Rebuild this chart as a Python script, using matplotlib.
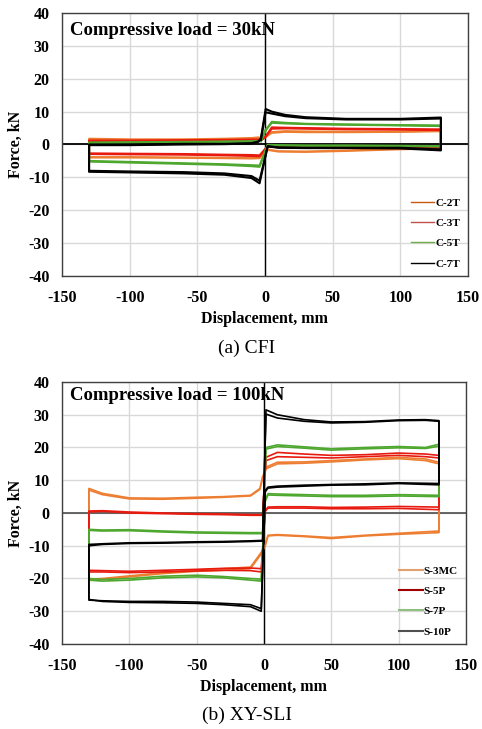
import matplotlib
matplotlib.use("Agg")
import matplotlib.pyplot as plt

plt.rcParams['font.family'] = ['Liberation Serif', 'DejaVu Serif']
plt.rcParams['axes.unicode_minus'] = False

# (a) CFI, compressive load 30 kN -- loop vertices
disp_a = [-3, 0.5, 5, 15, 30, 60, 100, 130, 130, 100, 60, 30, 10, 2,
          -4, -10, -30, -60, -100, -130, -130, -100, -60, -30, -10, -5, -3]

c2t_1 = [2.0, 2.5, 3.8, 4.1, 4.0, 3.9, 3.9, 4.2, -1.0, -1.3, -1.8, -2.1, -2.0, -1.5,
         -4.2, -4.3, -4.2, -4.1, -4.0, -4.0, 1.8, 1.6, 1.6, 1.8, 2.0, 2.2, 2.0]
c2t_2 = [1.7, 2.2, 3.5, 3.8, 3.7, 3.7, 3.8, 4.0, -1.2, -1.5, -2.0, -2.3, -2.2, -1.7,
         -4.0, -4.1, -4.0, -3.9, -3.8, -3.8, 1.5, 1.4, 1.4, 1.6, 1.8, 2.0, 1.7]
c3t_1 = [1.4, 2.5, 4.8, 4.9, 4.8, 4.6, 4.5, 4.4, -1.2, -1.1, -1.0, -0.9, -0.8, -0.6,
         -3.6, -3.5, -3.3, -3.1, -3.0, -2.9, 1.2, 1.2, 1.3, 1.4, 1.5, 1.5, 1.4]
c3t_2 = [1.2, 2.3, 5.2, 5.1, 5.0, 4.8, 4.7, 4.6, -1.0, -0.9, -0.8, -0.8, -0.7, -0.5,
         -3.3, -3.2, -3.1, -2.9, -2.8, -2.7, 1.0, 1.0, 1.1, 1.2, 1.3, 1.3, 1.2]
c5t_1 = [1.2, 4.5, 6.6, 6.4, 6.2, 6.0, 5.8, 5.6, -0.6, -0.5, -0.4, -0.4, -0.3, -0.2,
         -6.8, -6.6, -6.2, -5.9, -5.5, -5.2, 0.6, 0.7, 0.8, 0.9, 1.0, 1.1, 1.2]
c5t_2 = [1.0, 4.2, 6.9, 6.6, 6.3, 6.1, 5.9, 5.8, -0.5, -0.4, -0.3, -0.3, -0.2, -0.1,
         -6.4, -6.3, -6.0, -5.7, -5.3, -5.0, 0.5, 0.6, 0.7, 0.8, 0.9, 1.0, 1.0]
c7t_1 = [1.9, 10.8, 10.0, 9.0, 8.3, 7.8, 7.8, 8.2, -1.5, -1.0, -1.0, -1.0, -0.9, -0.5,
         -11.8, -10.2, -9.2, -8.8, -8.5, -8.3, -0.2, -0.2, 0.0, 0.1, 0.3, 0.8, 1.9]
c7t_2 = [1.5, 9.8, 9.4, 8.6, 8.0, 7.6, 7.6, 7.9, -1.8, -1.2, -1.1, -1.1, -1.0, -0.6,
         -11.0, -9.6, -8.8, -8.4, -8.2, -8.0, 0.0, 0.0, 0.2, 0.2, 0.4, 0.9, 1.5]

# (b) XY-SLI, compressive load 100 kN
disp_b = [-1, 1.5, 10, 30, 50, 75, 100, 120, 130, 130, 100, 75, 50, 30, 10, 3, 1,
          -2, -10, -30, -50, -75, -100, -120, -130, -130, -120, -100, -75, -50, -30, -10, -3, -1]

s3mc_1 = [11.0, 14.0, 15.5, 15.6, 16.0, 16.5, 17.0, 16.5, 15.5, -6.0, -6.5, -7.0, -7.8, -7.2, -6.8, -7.0, -10.0,
          -12.5, -17.0, -17.5, -17.8, -18.5, -19.5, -20.3, -20.5, 7.5, 6.0, 4.6, 4.5, 4.8, 5.0, 5.4, 7.5, 11.0]
s3mc_2 = [10.5, 13.5, 15.0, 15.2, 15.6, 16.2, 16.6, 16.0, 15.0, -5.5, -6.2, -6.8, -7.5, -7.0, -6.6, -6.8, -9.5,
          -12.0, -16.5, -17.0, -17.4, -18.2, -19.2, -20.0, -20.2, 7.0, 5.6, 4.3, 4.2, 4.5, 4.8, 5.2, 7.2, 10.5]
s5p_1 = [-0.7, 17.0, 18.5, 18.0, 17.6, 17.8, 18.3, 18.0, 17.6, 1.0, 1.4, 1.3, 1.3, 1.5, 1.5, 1.5, 0.5,
         -18.0, -17.6, -17.5, -17.7, -18.0, -18.2, -18.0, -18.0, 0.3, 0.5, 0.0, -0.2, -0.4, -0.5, -0.7, -0.7, -0.7]
s5p_2 = [-0.5, 16.0, 17.2, 17.0, 16.8, 17.2, 17.6, 17.2, 16.8, 1.8, 2.0, 1.8, 1.7, 1.9, 1.9, 1.8, 0.8,
         -17.0, -16.8, -16.9, -17.2, -17.5, -17.8, -17.6, -17.5, 0.6, 0.7, 0.3, 0.0, -0.2, -0.3, -0.5, -0.5, -0.5]
s7p_1 = [-6.3, 20.0, 20.8, 20.2, 19.6, 20.0, 20.3, 20.0, 21.0, 5.4, 5.6, 5.4, 5.4, 5.6, 5.8, 5.9, 4.0,
         -20.8, -20.5, -19.8, -19.5, -19.8, -20.5, -20.8, -20.5, -5.3, -5.5, -5.4, -5.8, -6.1, -6.2, -6.3, -6.3, -6.3]
s7p_2 = [-6.0, 19.5, 20.3, 19.8, 19.2, 19.6, 19.9, 19.7, 20.4, 5.0, 5.2, 5.0, 5.0, 5.2, 5.4, 5.5, 3.6,
         -20.2, -20.0, -19.4, -19.0, -19.3, -20.0, -20.3, -20.0, -5.0, -5.2, -5.1, -5.5, -5.8, -5.9, -6.0, -6.0, -6.0]
s10p_1 = [-8.6, 31.5, 30.0, 28.5, 27.8, 27.9, 28.4, 28.5, 28.2, 9.0, 9.2, 8.9, 8.7, 8.5, 8.2, 7.9, 7.0,
          -30.0, -28.6, -28.0, -27.6, -27.4, -27.3, -27.0, -26.4, -10.0, -9.6, -9.3, -9.2, -9.0, -8.9, -8.7, -8.6, -8.6]
s10p_2 = [-8.4, 30.2, 29.0, 28.0, 27.5, 27.7, 28.2, 28.3, 28.0, 8.6, 9.0, 8.6, 8.5, 8.2, 7.9, 7.6, 6.5,
          -29.2, -28.0, -27.6, -27.2, -27.0, -27.0, -26.8, -26.6, -9.6, -9.4, -9.1, -9.0, -8.8, -8.7, -8.5, -8.4, -8.4]

x_ticks = [-150, -100, -50, 0, 50, 100, 150]
y_ticks = [-40, -30, -20, -10, 0, 10, 20, 30, 40]


def style_axes(ax, zero_color):
    ax.set_xlim(-150, 150)
    ax.set_ylim(-40, 40)
    ax.set_xticks(x_ticks)
    ax.set_yticks(y_ticks)
    ax.grid(True, color='#d9d9d9', linewidth=1.0)
    ax.set_axisbelow(True)
    ax.axvline(0, color='black', linewidth=1.0, zorder=1.5)
    ax.axhline(0, color=zero_color, linewidth=1.3, zorder=1.5)
    ax.tick_params(axis='x', length=0, labelsize=11.5, pad=10)
    ax.tick_params(axis='y', length=0, labelsize=11.5, pad=9)
    for lab in ax.get_xticklabels() + ax.get_yticklabels():
        lab.set_fontweight('bold')
    for s in ax.spines.values():
        s.set_linewidth(1.0)
        s.set_color('#404040')
    ax.set_xlabel("Displacement, mm", fontsize=11.5, fontweight='bold', labelpad=4)
    ax.set_ylabel("Force, kN", fontsize=11.5, fontweight='bold', labelpad=3)


def draw_loops(ax, disp, loops, color, lw, label):
    for i, f in enumerate(loops):
        ax.plot(disp, f, color=color, linewidth=lw, label=label if i == 0 else None)


fig = plt.figure(figsize=(4.82, 7.29), dpi=100)

ax1 = fig.add_axes([0.1286, 0.6214, 0.8423, 0.3608])
style_axes(ax1, 'black')
draw_loops(ax1, disp_a, [c2t_1, c2t_2], '#ed7d31', 1.3, 'C-2T')
draw_loops(ax1, disp_a, [c3t_1, c3t_2], '#e8190f', 1.5, 'C-3T')
draw_loops(ax1, disp_a, [c5t_1, c5t_2], '#4ea72e', 1.5, 'C-5T')
draw_loops(ax1, disp_a, [c7t_1, c7t_2], 'black', 1.5, 'C-7T')
ax1.text(0.02, 0.935, "Compressive load = 30kN", transform=ax1.transAxes,
         fontsize=13.5, fontweight='bold', va='center', ha='left')
leg1 = ax1.legend(loc='lower right', bbox_to_anchor=(1.005, -0.01), frameon=False,
                  prop={'weight': 'bold', 'size': 8}, handlelength=2.1,
                  handletextpad=0.1, labelspacing=0.95)
for h, c in zip(leg1.get_lines(), ['#c55a11', '#c0504d', '#70ad47', 'black']):
    h.set_color(c)
    h.set_linewidth(1.0)
fig.text(0.512, 0.5226, "(a) CFI", fontsize=14, ha='center', va='center')

ax2 = fig.add_axes([0.1286, 0.1166, 0.838, 0.3594])
style_axes(ax2, '#595959')
draw_loops(ax2, disp_b, [s3mc_1, s3mc_2], '#ed7d31', 1.2, 'S-3MC')
draw_loops(ax2, disp_b, [s5p_1, s5p_2], '#e8190f', 1.2, 'S-5P')
draw_loops(ax2, disp_b, [s7p_1, s7p_2], '#4ea72e', 1.2, 'S-7P')
draw_loops(ax2, disp_b, [s10p_1, s10p_2], 'black', 1.2, 'S-10P')
ax2.text(0.02, 0.95, "Compressive load = 100kN", transform=ax2.transAxes,
         fontsize=13.5, fontweight='bold', va='center', ha='left')
leg2 = ax2.legend(loc='lower right', bbox_to_anchor=(1.005, -0.01), frameon=False,
                  prop={'weight': 'bold', 'size': 8}, handlelength=2.1,
                  handletextpad=0.1, labelspacing=0.95)
for h, c in zip(leg2.get_lines(), ['#e0a070', '#a00000', '#90c080', '#505050']):
    h.set_color(c)
    h.set_linewidth(1.5)
fig.text(0.512, 0.0192, "(b) XY-SLI", fontsize=14, ha='center', va='center')

fig.savefig("out.png", dpi=100)
